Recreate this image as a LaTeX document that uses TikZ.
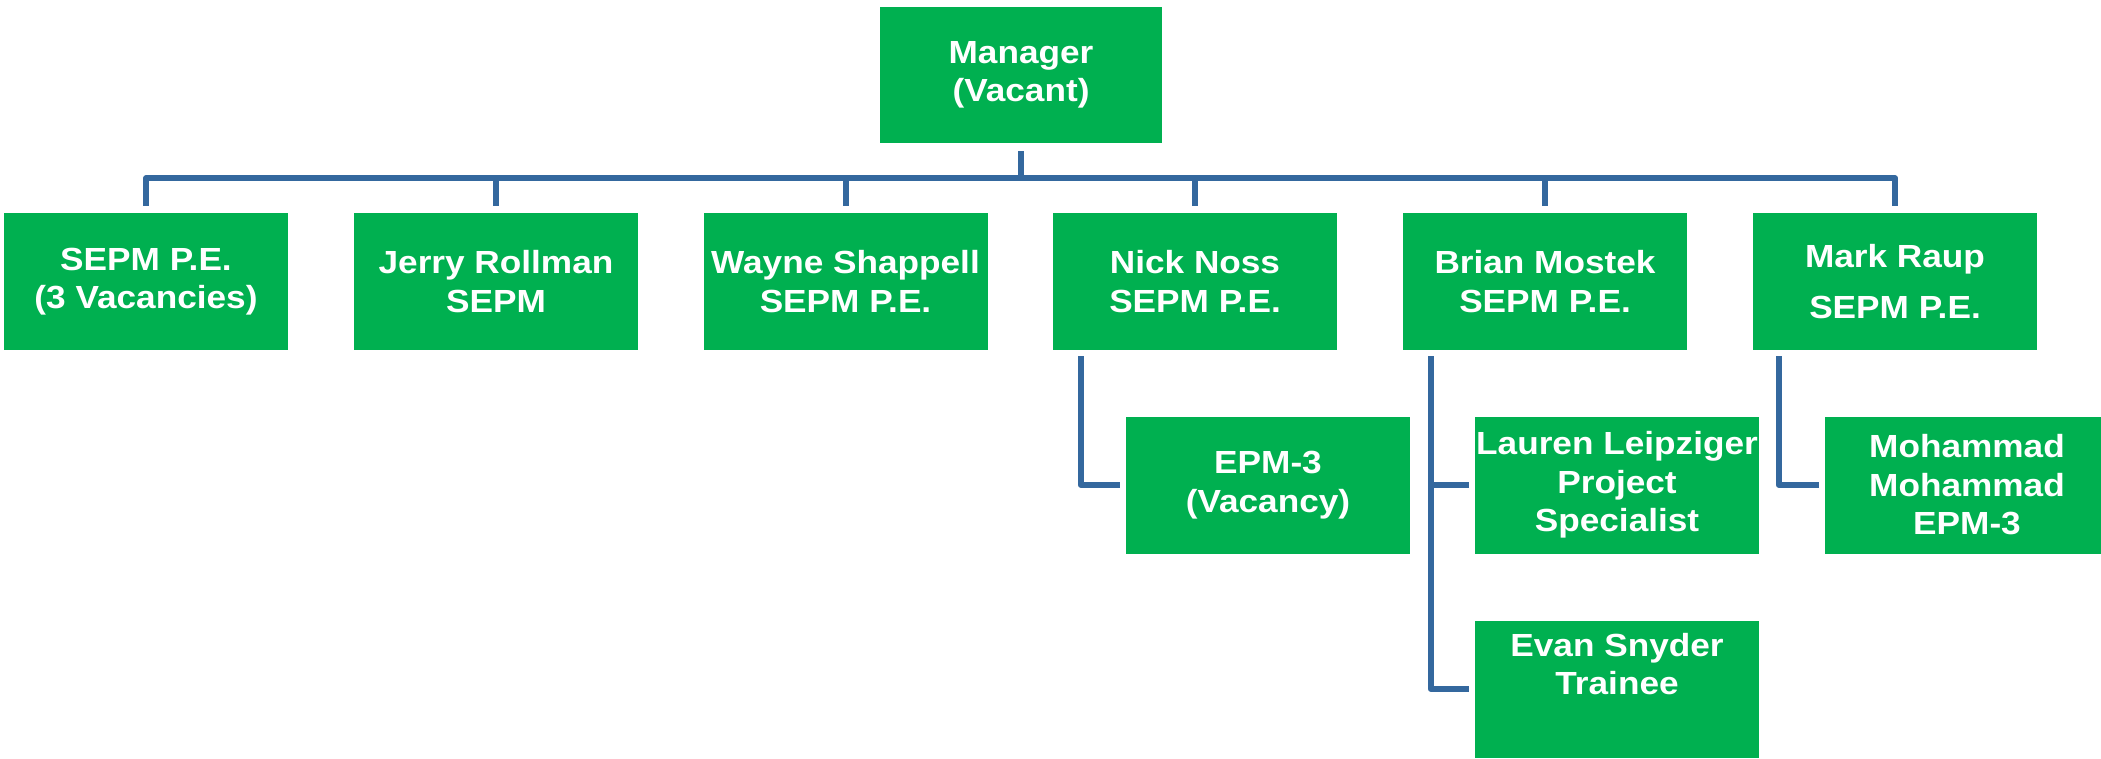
\documentclass[tikz,border=0pt]{standalone}
\usepackage{fontspec}
\newfontfamily\boxfont{Liberation Sans}[FakeStretch=1.1]
\definecolor{boxgreen}{RGB}{0,176,80}
\definecolor{linkblue}{RGB}{52,104,158}
\begin{document}
\begin{tikzpicture}[x=1pt,y=1pt,
  box/.style={fill=boxgreen, draw=none, minimum width=284pt, minimum height=137pt,
    inner sep=0pt, align=center, text=white,
    font=\boxfont\bfseries\fontsize{32}{38.5}\selectfont},
  conn/.style={draw=linkblue, line width=6pt, line join=round}]
\useasboundingbox (0,0) rectangle (2101,-759);
\clip (0,0) rectangle (2101,-759);
\node[box, minimum width=282pt, minimum height=136pt] (mgr) at (1021,-75) {Manager\\(Vacant)};
\node[box] (c1) at (146,-281.5) {SEPM P.E.\\(3 Vacancies)};
\node[box] (c2) at (496,-281.5) {Jerry Rollman\\SEPM};
\node[box] (c3) at (845.5,-281.5) {Wayne Shappell\\SEPM P.E.};
\node[box] (c4) at (1195,-281.5) {Nick Noss\\SEPM P.E.};
\node[box] (c5) at (1545,-281.5) {Brian Mostek\\SEPM P.E.};
\node[box] (c6) at (1895,-281.5) {Mark Raup\\[12pt]SEPM P.E.};
\node[box] (n1) at (1268,-485) {EPM-3\\(Vacancy)};
\node[box] (b1) at (1617,-485) {Lauren Leipziger\\Project\\Specialist};
\node[box] (b2) at (1617,-689) {Evan Snyder\\Trainee\\\strut};
\node[box] (m1) at (1967,-485) {Mohammad\\Mohammad\\EPM-3};
\foreach \c in {c1,c2,c3,c4,c5,c6}
  \draw[conn, shorten >=7pt] (mgr.south) ++(0,-8) -- ++(0,-27) -| (\c.north);
\draw[conn, shorten <=6pt, shorten >=6pt] ([xshift=28pt]c4.south west) |- (n1.west);
\draw[conn, shorten <=6pt, shorten >=6pt] ([xshift=28pt]c5.south west) |- (b1.west);
\draw[conn, shorten <=6pt, shorten >=6pt] ([xshift=28pt]c5.south west) |- (b2.west);
\draw[conn, shorten <=6pt, shorten >=6pt] ([xshift=26pt]c6.south west) |- (m1.west);
\end{tikzpicture}
\end{document}
